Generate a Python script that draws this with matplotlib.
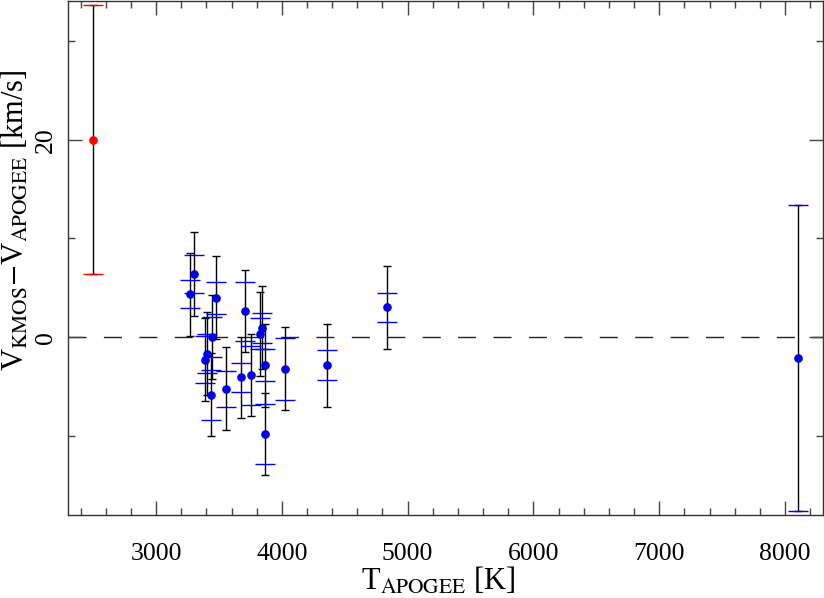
import matplotlib
matplotlib.use("Agg")
import matplotlib.pyplot as plt
from matplotlib.ticker import MultipleLocator

# T_APOGEE [K], dV = V_KMOS - V_APOGEE [km/s]
t_apogee = [2499, 3302, 3270, 3475, 3710, 3443, 3408, 3392, 3435, 3554,
            3673, 3755, 3827, 3843, 3866, 3864, 4025, 4359, 4834, 8103]
dv = [20.0, 6.41, 4.34, 3.98, 2.62, 0.03, -1.66, -2.27, -5.84, -5.23,
      -4.06, -3.86, 0.36, 0.94, -2.84, -9.79, -3.21, -2.84, 3.03, -2.08]
# total error (black bars)
err_tot = [13.6, 4.21, 4.19, 4.2, 4.15, 4.25, 4.2, 4.2, 4.2, 4.2,
           4.1, 4.15, 4.25, 4.2, 4.2, 4.15, 4.2, 4.2, 4.2, 15.5]
# KMOS-only error (coloured caps)
err_kmos = [13.6, 1.95, 1.42, 1.65, 3.0, 2.0, 2.0, 2.4, 2.5, 1.8,
            1.5, 3.0, 1.6, 1.5, 1.6, 3.05, 3.1, 1.5, 1.5, 15.5]

plt.rcParams.update({
    "font.family": ["Liberation Serif", "DejaVu Serif"],
    "mathtext.fontset": "stix",
    "font.size": 18.5,
})

fig = plt.figure(figsize=(8.24, 5.98), dpi=100)
ax = fig.add_axes([0.0825, 0.1388, 0.916, 0.8587])

ax.axhline(0, color="#222222", linewidth=1.0, linestyle=(0, (13, 12.5)), zorder=1)

# black total-error bars
ax.errorbar(t_apogee, dv, yerr=err_tot, fmt="none", ecolor="black",
            elinewidth=1.0, capsize=2.6, capthick=1.0, zorder=2)
# red caps for the outlier, blue caps for the rest
ax.errorbar(t_apogee[:1], dv[:1], yerr=err_kmos[:1], fmt="none", ecolor="red",
            elinewidth=0, capsize=7.2, capthick=1.0, zorder=3)
ax.errorbar(t_apogee[1:], dv[1:], yerr=err_kmos[1:], fmt="none", ecolor="blue",
            elinewidth=0, capsize=7.2, capthick=1.0, zorder=3)

ax.plot(t_apogee[:1], dv[:1], "o", color="red", markersize=5.2, zorder=4)
ax.plot(t_apogee[1:], dv[1:], "o", color="#0000e6", markersize=5.2, zorder=4)

ax.set_xlim(2300, 8300)
ax.set_ylim(-18, 34)

ax.xaxis.set_major_locator(MultipleLocator(1000))
ax.xaxis.set_minor_locator(MultipleLocator(200))
ax.yaxis.set_major_locator(MultipleLocator(20))
ax.yaxis.set_minor_locator(MultipleLocator(10))
ax.tick_params(which="both", direction="in", top=True, right=True,
               color="#444444", width=1.0)
ax.tick_params(which="major", length=10)
ax.tick_params(which="minor", length=5)
ax.tick_params(axis="x", pad=20)
ax.tick_params(axis="y", pad=8)
for lab in ax.get_yticklabels():
    lab.set_rotation(90)
    lab.set_va("center")
for sp in ax.spines.values():
    sp.set_color("#333333")
    sp.set_linewidth(1.0)

ax.set_xlabel(r"T$_{\rm APOGEE}$ [K]", fontsize=22)
ax.set_ylabel(r"V$_{\rm KMOS}$$-$V$_{\rm APOGEE}$ [km/s]", fontsize=22)
ax.xaxis.set_label_coords(0.49, -0.098)
ax.yaxis.set_label_coords(-0.049, 0.574)

fig.savefig("out.png")
